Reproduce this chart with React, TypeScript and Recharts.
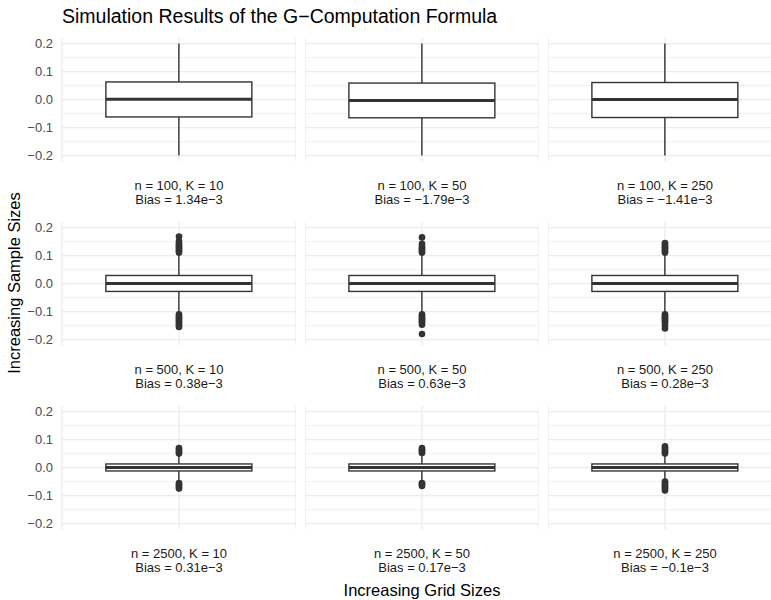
import { ComposedChart, Bar, Scatter, XAxis, YAxis, CartesianGrid } from 'recharts';

// facets are ordered row by row: n = 100, 500, 2500 ; K = 10, 50, 250
const sampleSizes = [100, 500, 2500];
const gridSizes = [10, 50, 250];
const biasLabels = [
  '1.34e−3', '−1.79e−3', '−1.41e−3',
  '0.38e−3', '0.63e−3', '0.28e−3',
  '0.31e−3', '0.17e−3', '−0.1e−3',
];

const lowerWhisker = [-0.2, -0.2, -0.2, -0.105, -0.105, -0.105, -0.045, -0.045, -0.045];
const q1 = [-0.062, -0.065, -0.064, -0.028, -0.028, -0.028, -0.012, -0.012, -0.012];
const median = [0.001, -0.003, 0.0, 0.0, 0.0, 0.0, 0.0, 0.0, 0.0];
const q3 = [0.063, 0.059, 0.061, 0.029, 0.029, 0.029, 0.013, 0.013, 0.013];
const upperWhisker = [0.2, 0.2, 0.2, 0.105, 0.105, 0.105, 0.045, 0.045, 0.045];

const outliers: number[][] = [
  [],
  [],
  [],
  [0.11, 0.115, 0.12, 0.125, 0.13, 0.135, 0.14, 0.145, 0.152, 0.168,
    -0.11, -0.115, -0.12, -0.125, -0.13, -0.135, -0.14, -0.145, -0.15, -0.155],
  [0.11, 0.115, 0.12, 0.125, 0.13, 0.135, 0.142, 0.165,
    -0.11, -0.115, -0.12, -0.125, -0.13, -0.135, -0.14, -0.147, -0.18],
  [0.11, 0.115, 0.12, 0.125, 0.13, 0.135, 0.14, 0.145,
    -0.11, -0.115, -0.12, -0.125, -0.13, -0.135, -0.14, -0.15, -0.16],
  [0.05, 0.055, 0.06, 0.065, 0.07, -0.055, -0.06, -0.065, -0.07, -0.075],
  [0.052, 0.056, 0.06, 0.065, 0.07, -0.055, -0.058, -0.062, -0.066],
  [0.05, 0.055, 0.06, 0.065, 0.07, 0.076, -0.05, -0.055, -0.06, -0.065, -0.07, -0.075, -0.082],
];

const majorTicks = [-0.2, -0.1, 0, 0.1, 0.2];
const minorTicks = [-0.15, -0.05, 0.05, 0.15];

const COL_X = [62, 305, 548];
const ROW_Y = [38.4, 222.4, 406.4];
const PANEL_W = 234;
const PANEL_H = 123.2;
const PAD = 8; // room above/below the panel so edge tick labels are not clipped
const Y_W = 62;
const INK = '#333333';

const fmt = (v: number) => v.toFixed(1).replace('-', '−');

const BoxShape = (props: any) => {
  const { x, y, width, height, payload } = props;
  const { lo, hi } = payload;
  // pixel position of a value, taken from the bar's [lo, hi] extent
  const py = (v: number) => y + ((hi - v) / (hi - lo)) * height;
  const cx = x + width / 2;
  return (
    <g>
      <line x1={cx} x2={cx} y1={py(hi)} y2={py(payload.q3)} stroke={INK} strokeWidth={1.4} />
      <line x1={cx} x2={cx} y1={py(payload.q1)} y2={py(lo)} stroke={INK} strokeWidth={1.4} />
      <rect
        x={x}
        y={py(payload.q3)}
        width={width}
        height={py(payload.q1) - py(payload.q3)}
        fill="#ffffff"
        stroke={INK}
        strokeWidth={1.4}
      />
      <line x1={x} x2={x + width} y1={py(payload.med)} y2={py(payload.med)} stroke={INK} strokeWidth={3} />
    </g>
  );
};

function Panel({ idx }: { idx: number }) {
  const row = Math.floor(idx / 3);
  const col = idx % 3;
  const data = [
    {
      cat: 'g',
      range: [lowerWhisker[idx], upperWhisker[idx]],
      lo: lowerWhisker[idx],
      q1: q1[idx],
      med: median[idx],
      q3: q3[idx],
      hi: upperWhisker[idx],
    },
  ];
  const pts = outliers[idx].map((v) => ({ cat: 'g', v }));
  const yw = col === 0 ? Y_W : 0;
  return (
    <div style={{ position: 'absolute', left: COL_X[col] - yw, top: ROW_Y[row] - PAD }}>
      <ComposedChart
        width={PANEL_W + yw}
        height={PANEL_H + 2 * PAD}
        data={data}
        margin={{ top: PAD, right: 0, bottom: PAD, left: 0 }}
        barCategoryGap="18.75%"
      >
        <CartesianGrid horizontalValues={minorTicks} vertical={false} stroke="#ebebeb" strokeWidth={0.7} />
        <CartesianGrid horizontalValues={majorTicks} stroke="#ebebeb" strokeWidth={1.3} />
        <XAxis dataKey="cat" type="category" allowDuplicatedCategory={false} hide />
        <YAxis
          type="number"
          domain={[-0.22, 0.22]}
          ticks={majorTicks}
          interval={0}
          hide={col !== 0}
          width={yw}
          axisLine={false}
          tickLine={false}
          tickSize={0}
          tickMargin={9}
          tick={{ fontSize: 13, fill: '#4d4d4d' }}
          tickFormatter={fmt}
        />
        <Bar dataKey="range" shape={BoxShape} isAnimationActive={false} />
        {pts.length > 0 && (
          <Scatter
            data={pts}
            dataKey="v"
            isAnimationActive={false}
            shape={(p: any) => <circle cx={p.cx} cy={p.cy} r={3.3} fill={INK} />}
          />
        )}
      </ComposedChart>
      <div
        style={{
          position: 'absolute',
          left: yw,
          top: PAD + PANEL_H + 17,
          width: PANEL_W,
          textAlign: 'center',
          fontSize: 13,
          lineHeight: '14px',
          color: '#1a1a1a',
        }}
      >
        <div>{`n = ${sampleSizes[row]}, K = ${gridSizes[col]}`}</div>
        <div>{`Bias = ${biasLabels[idx]}`}</div>
      </div>
    </div>
  );
}

export default function App() {
  return (
    <div
      style={{
        position: 'absolute',
        left: 0,
        top: 0,
        width: 771,
        height: 600,
        overflow: 'hidden',
        background: '#ffffff',
        fontFamily: '"Liberation Sans", Arial, sans-serif',
      }}
    >
      <div style={{ position: 'absolute', left: 62, top: 5, fontSize: 19.5, lineHeight: '23px', color: '#000' }}>
        Simulation Results of the G−Computation Formula
      </div>
      {biasLabels.map((_, i) => (
        <Panel key={i} idx={i} />
      ))}
      <div
        style={{
          position: 'absolute',
          left: 14,
          top: 283,
          transform: 'translate(-50%, -50%) rotate(-90deg)',
          whiteSpace: 'nowrap',
          fontSize: 16.5,
          color: '#000',
        }}
      >
        Increasing Sample Sizes
      </div>
      <div
        style={{
          position: 'absolute',
          left: 422,
          top: 590,
          transform: 'translate(-50%, -50%)',
          whiteSpace: 'nowrap',
          fontSize: 16.5,
          color: '#000',
        }}
      >
        Increasing Grid Sizes
      </div>
    </div>
  );
}
